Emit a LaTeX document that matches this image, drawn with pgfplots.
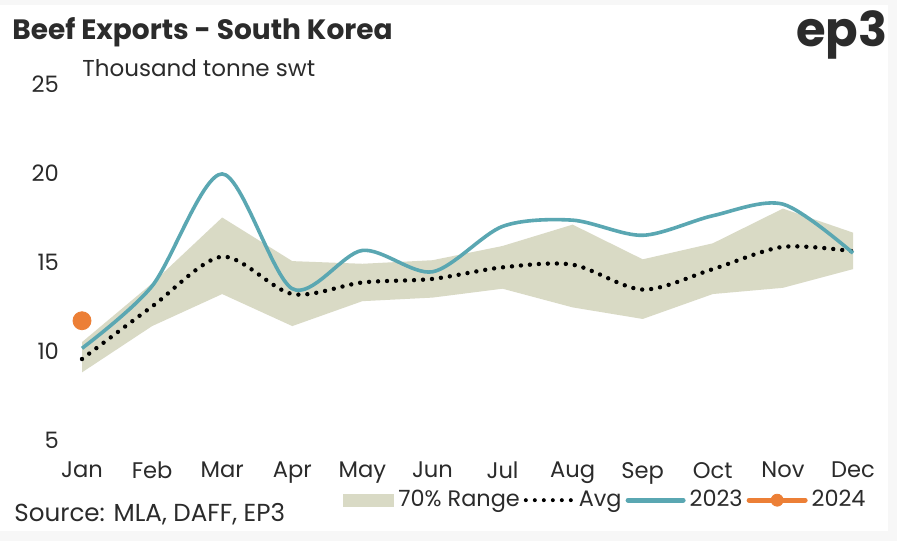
\documentclass[border=0pt]{standalone}
\usepackage{fontspec}
\setmainfont{Poppins}
\usepackage{pgfplots}
\pgfplotsset{compat=1.18}
\usepgfplotslibrary{fillbetween}
\definecolor{band}{HTML}{D9DAC5}
\definecolor{teal}{HTML}{5AA7B2}
\definecolor{orng}{HTML}{EC7F36}
\definecolor{gridc}{HTML}{ECEDE4}
\definecolor{txt}{HTML}{2B2B2B}
\begin{document}
\begin{tikzpicture}[x=1pt,y=1pt]
\fill[gray!6] (-41,-50.5) rectangle (407.5,220);
\fill[white] (-41,-45.5) rectangle (403,217.5);
\begin{axis}[
  at={(0,0)}, anchor=south west,
  scale only axis, width=385.5pt, height=178pt,
  xmin=0, xmax=11, ymin=5, ymax=25,
  xtick={0,...,11},
  xticklabels={Jan,Feb,Mar,Apr,May,Jun,Jul,Aug,Sep,Oct,Nov,Dec},
  ytick={10,15,20,25},
  extra y ticks={5},
  extra y tick style={grid style={color=black!22, line width=0.7pt}},
  axis line style={draw=none}, major tick length=0pt,
  ymajorgrids, grid style={gridc, line width=0.7pt},
  tick label style={font=\fontsize{11.3}{13}\selectfont, text=txt},
  yticklabel style={anchor=east, xshift=-8pt},
  xticklabel style={yshift=-7.5pt},
  /pgf/number format/assume math mode=true,
  clip=false,
  legend columns=4,
  legend style={at={(1.022,-0.169)}, anchor=east, draw=none, fill=none,
    font=\fontsize{11.2}{13}\selectfont, text=txt,
    /tikz/every even column/.append style={column sep=0pt},
    /tikz/every odd column/.append style={column sep=0pt},
    inner sep=0pt, cells={anchor=west}},
]
\addplot[name path=upper, draw=none, forget plot] coordinates {
(0,10.5) (1,13.8) (2,17.5) (3,15.05) (4,14.9) (5,15.1) (6,15.9) (7,17.1) (8,15.15) (9,16.05) (10,18.0) (11,16.65)};
\addplot[name path=lower, draw=none, forget plot] coordinates {
(0,8.8) (1,11.4) (2,13.2) (3,11.4) (4,12.8) (5,13.0) (6,13.5) (7,12.45) (8,11.8) (9,13.2) (10,13.55) (11,14.6)};
\addplot[fill=band, draw=none,
  legend image code/.code={\fill[band] (0pt,-3.3pt) rectangle (25.5pt,3.3pt);}]
  fill between[of=upper and lower, on layer=main];
\addlegendentry{70\% Range}
\addplot[black, line width=2.2pt, line cap=round, dash pattern=on 0pt off 4.5pt, smooth,
  legend image code/.code={\draw[black, line width=2pt, line cap=round, dash pattern=on 0pt off 4.5pt] (1.5pt,0pt) -- (25pt,0pt);}]
  coordinates {
(0,9.55) (1,12.5) (2,15.3) (3,13.2) (4,13.85) (5,14.05) (6,14.7) (7,14.85) (8,13.45) (9,14.6) (10,15.85) (11,15.6)};
\addlegendentry{Avg}
\addplot[teal, line width=1.8pt, smooth,
  legend image code/.code={\draw[teal, line width=2.5pt, line cap=round] (0pt,0pt) -- (27.5pt,0pt);}]
  coordinates {
(0,10.15) (1,13.65) (2,19.95) (3,13.5) (4,15.65) (5,14.45) (6,17.0) (7,17.35) (8,16.5) (9,17.6) (10,18.25) (11,15.5)};
\addlegendentry{2023}
\addplot[orng, only marks, mark=*, mark size=4.5pt,
  legend image code/.code={\draw[orng, line width=2.5pt, line cap=round] (0pt,0pt) -- (28pt,0pt); \fill[orng] (14pt,0pt) circle (3pt);}]
  coordinates {(0,11.7)};
\addlegendentry{2024}
\end{axis}
\node[anchor=base west, inner sep=0pt, text=txt] at (-35,200) {\fontsize{14}{16}\selectfont\bfseries Beef Exports - South Korea};
\node[anchor=base east, inner sep=0pt, text=txt] at (403,196.5) {\fontsize{24}{28}\selectfont\bfseries ep3};
\node[anchor=base west, inner sep=0pt, text=txt] at (0,181.5) {\fontsize{11.5}{13}\selectfont Thousand tonne swt};
\node[anchor=base west, inner sep=0pt, text=txt] at (-34,-40.5) {\fontsize{12.3}{14}\selectfont Source: MLA, DAFF, EP3};
\end{tikzpicture}
\end{document}
